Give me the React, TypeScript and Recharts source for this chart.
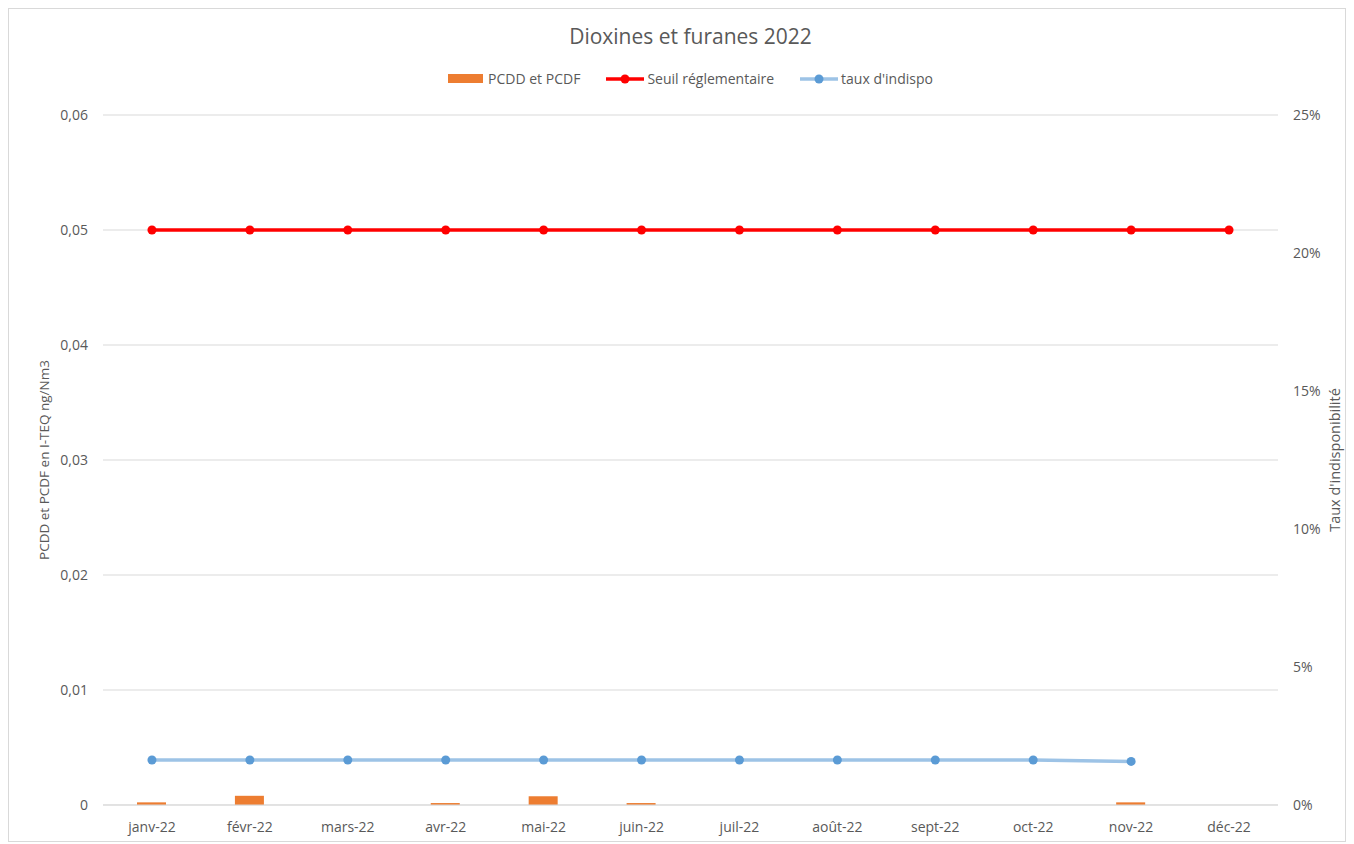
import React from "react";
import {
  ComposedChart,
  Bar,
  Line,
  XAxis,
  YAxis,
  CartesianGrid,
} from "recharts";

const MONTHS = [
  "janv-22", "févr-22", "mars-22", "avr-22", "mai-22", "juin-22",
  "juil-22", "août-22", "sept-22", "oct-22", "nov-22", "déc-22",
];
// ng/Nm3 I-TEQ
const PCDD = [0.00023, 0.0008, null, 0.00017, 0.00076, 0.00017, null, null, null, null, 0.00023, null];
const SEUIL = [0.05, 0.05, 0.05, 0.05, 0.05, 0.05, 0.05, 0.05, 0.05, 0.05, 0.05, 0.05];
// %
const INDISPO = [1.63, 1.63, 1.63, 1.63, 1.63, 1.63, 1.63, 1.63, 1.63, 1.63, 1.58, null];

const LEFT_TICKS = [0, 0.01, 0.02, 0.03, 0.04, 0.05, 0.06];
const RIGHT_TICKS = [0, 5, 10, 15, 20, 25];

const ORANGE = "#ED7D31";
const RED = "#FF0000";
const BLUE_LINE = "#9DC3E6";
const BLUE_DOT = "#5B9BD5";
const TXT = "#595959";
const FONT = "'Open Sans', Lato, sans-serif";

const data = MONTHS.map((m, i) => ({
  month: m,
  pcdd: PCDD[i],
  seuil: SEUIL[i],
  indispo: INDISPO[i],
}));

const fmtLeft = (v: number) => (v === 0 ? "0" : v.toFixed(2).replace(".", ","));

function LegendItem({ kind, color, dot, label }: { kind: "bar" | "line"; color: string; dot?: string; label: string }) {
  return (
    <div style={{ display: "flex", alignItems: "center", gap: 3 }}>
      {kind === "bar" ? (
        <span style={{ width: 35, height: 9, background: color, display: "inline-block", marginRight: 2 }} />
      ) : (
        <svg width={38} height={12}>
          <line x1={0} y1={6} x2={38} y2={6} stroke={color} strokeWidth={3.5} />
          <circle cx={19} cy={6} r={4.5} fill={dot} />
        </svg>
      )}
      <span>{label}</span>
    </div>
  );
}

export default function App() {
  return (
    <div
      style={{
        position: "relative",
        width: 1338,
        height: 834,
        border: "1px solid #d9d9d9",
        boxSizing: "border-box",
        background: "#fff",
        fontFamily: FONT,
      }}
    >
      <div
        style={{
          position: "absolute",
          left: 94,
          width: 1175,
          top: 13,
          textAlign: "center",
          fontSize: 21,
          color: TXT,
        }}
      >
        Dioxines et furanes 2022
      </div>
      <div
        style={{
          position: "absolute",
          left: 94,
          width: 1175,
          top: 60,
          display: "flex",
          justifyContent: "center",
          gap: 26,
          fontSize: 14,
          color: TXT,
        }}
      >
        <LegendItem kind="bar" color={ORANGE} label="PCDD et PCDF" />
        <LegendItem kind="line" color={RED} dot={RED} label="Seuil réglementaire" />
        <LegendItem kind="line" color={BLUE_LINE} dot={BLUE_DOT} label="taux d'indispo" />
      </div>
      <ComposedChart
        width={1336}
        height={832}
        data={data}
        margin={{ top: 106, right: 0, bottom: 0, left: 0 }}
        style={{ fontFamily: FONT }}
      >
        <CartesianGrid vertical={false} stroke="#d9d9d9" yAxisId="left" />
        <XAxis
          dataKey="month"
          axisLine={{ stroke: "#d9d9d9" }}
          tickLine={false}
          tick={{ fontSize: 14, fill: TXT }}
          tickMargin={11}
          height={36}
          interval={0}
        />
        <YAxis
          yAxisId="left"
          domain={[0, 0.06]}
          ticks={LEFT_TICKS}
          tickFormatter={fmtLeft}
          axisLine={false}
          tickLine={false}
          tickMargin={9}
          width={94}
          tick={{ fontSize: 14, fill: TXT }}
          label={{
            value: "PCDD et PCDF en I-TEQ ng/Nm3",
            angle: -90,
            position: "insideLeft",
            offset: 35,
            style: { textAnchor: "middle", fontSize: 13.5, fill: TXT },
          }}
        />
        <YAxis
          yAxisId="right"
          orientation="right"
          domain={[0, 25]}
          ticks={RIGHT_TICKS}
          tickFormatter={(v: number) => `${v}%`}
          axisLine={false}
          tickLine={false}
          tickMargin={9}
          width={67}
          tick={{ fontSize: 14, fill: TXT, textAnchor: "start" }}
          label={{
            value: "Taux d'indisponibilité",
            angle: -90,
            position: "insideRight",
            offset: 10,
            style: { textAnchor: "middle", fontSize: 14.5, fill: TXT },
          }}
        />
        <Bar yAxisId="left" dataKey="pcdd" fill={ORANGE} barSize={29} isAnimationActive={false} />
        <Line
          yAxisId="left"
          dataKey="seuil"
          stroke={RED}
          strokeWidth={3.5}
          dot={{ r: 4.5, fill: RED, stroke: RED, strokeWidth: 0 }}
          isAnimationActive={false}
        />
        <Line
          yAxisId="right"
          dataKey="indispo"
          stroke={BLUE_LINE}
          strokeWidth={3.5}
          dot={{ r: 4.5, fill: BLUE_DOT, stroke: BLUE_DOT, strokeWidth: 0 }}
          isAnimationActive={false}
        />
      </ComposedChart>
    </div>
  );
}
